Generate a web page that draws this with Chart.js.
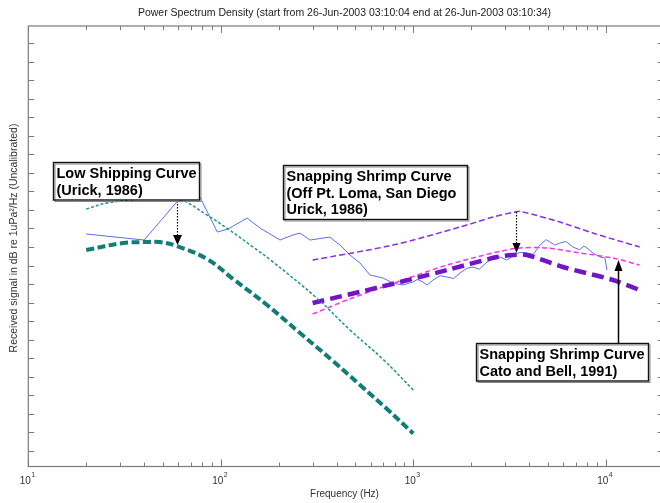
<!DOCTYPE html>
<html><head><meta charset="utf-8">
<script src="https://cdn.jsdelivr.net/npm/chart.js@4.4.1/dist/chart.umd.min.js"></script>
<style>html,body{margin:0;padding:0;background:#fff;overflow:hidden;width:660px;height:503px}canvas{display:block}</style>
</head><body>
<canvas id="c" width="668" height="503" style="width:668px;height:503px"></canvas>
<script>
// ---- texts ----
const titleText = "Power Spectrum Density (start from 26-Jun-2003 03:10:04 end at 26-Jun-2003 03:10:34)";
const xAxisTitle = "Frequency (Hz)";
const yAxisTitle = "Received signal in dB re 1uPa\u00B2/Hz (Uncalibrated)";

// ---- ticks ----
const xMajorTicks = [10, 100, 1000, 10000];
const xMajorExponents = ["1", "2", "3", "4"];
const xMinorTicks = [20,30,40,50,60,70,80,90,200,300,400,500,600,700,800,900,2000,3000,4000,5000,6000,7000,8000,9000];
const yTicks = [30,32,34,36,38,40,42,44,46,48,50,52,54,56,58,60,62,64,66,68,70,72,74];

// ---- measured PSD (blue) ----
const psdFreq = [20,40,59,67,72,77,96,109,137,160,203,237,258,291,369,416,469,529,596,696,784,884,996,1050,1123,1180,1266,1380,1497,1620,1748,1900,2042,2200,2415,2600,2821,3050,3296,3550,3896,4200,4552,4900,5131,5450,5781,6200,6753,7300,7700,7986,8580,9331,9904,10144];
const psdLevel = [53.4,52.75,56.85,57.28,57.82,57.6,53.61,53.94,55.12,54.04,52.75,53.29,53.5,52.75,53.07,52.21,51.13,50.27,48.98,48.65,48.11,47.9,48.22,48.5,48.22,47.9,48.44,48.9,48.76,48.6,49.19,49.7,49.84,49.6,50.38,50.8,50.92,50.6,51.02,51.4,51.35,51.2,52.21,52.8,52.53,52.2,52.43,52.6,52.0,51.7,52.1,51.89,51.35,50.92,50.81,49.51];

// ---- Low shipping curves (Urick 1986) ----
const shipHighFreq = [20,25.6,38,48,61,85,108,147,181,316,469,696,1000];
const shipHighLevel = [56.09,56.74,57.17,57.39,57.17,55.44,54.0,52.0,50.61,46.47,43.05,39.89,36.58];
const shipLowFreq = [20,31,40,48,59,85,116,174,258,383,529,730,1000];
const shipLowLevel = [51.67,52.43,52.53,52.53,52.1,50.7,48.54,45.74,42.72,39.7,37.12,34.53,31.89];

// ---- Snapping shrimp (Urick 1986, Off Pt. Loma) ----
const shrimpUrickFreq = [300,784,1748,2594,3375,3584,5781,8580,15000];
const shrimpUrickLevel = [50.59,52.21,54.15,55.23,55.77,55.85,54.69,53.5,52.0];

// ---- Snapping shrimp (Cato and Bell 1991) ----
const shrimpCatoFreq = [300,671,1497,2720,3296,3896,5995,10900,15000];
const shrimpCatoLevel = [45.96,47.68,49.51,50.92,51.13,51.13,49.84,48.44,47.36];

// ---- Snapping shrimp (magenta) ----
const shrimpMagFreq = [300,452,823,1497,2720,3584,4950,7345,10900,15000];
const shrimpMagLevel = [44.77,46.28,48.22,50.05,51.46,51.89,51.89,51.35,50.81,50.05];

// ---- annotations ----
const noteBoxes = [
  {lines:["Low Shipping Curve","(Urick, 1986)"], x:13.4, y:61.16, w:146},
  {lines:["Snapping Shrimp Curve","(Off Pt. Loma, San Diego","Urick, 1986)"], x:210, y:60.84, w:184},
  {lines:["Snapping Shrimp Curve","Cato and Bell, 1991)"], x:2117, y:41.64, w:172}
];
const noteArrows = [
  {x:59, from:56.95, to:52.21, dotted:true, head:[9,10]},
  {x:3416, from:55.77, to:51.35, dotted:true, head:[8,10]},
  {x:11570, from:41.64, to:50.59, dotted:false, head:[8,11]}
];

const pts = (fx, fy) => fx.map((f, i) => ({x: f, y: fy[i]}));

function ds(label, fx, fy, color, width, dash, tension){
  return {label, data: pts(fx, fy), borderColor: color, backgroundColor: color,
    borderWidth: width, borderDash: dash, pointRadius: 0, tension: tension, fill: false,
    borderCapStyle: 'butt'};
}

const overlay = {
  id: 'overlay',
  afterDatasetsDraw(chart){
    const ctx = chart.ctx, xs = chart.scales.x, ys = chart.scales.y;
    ctx.save();
    noteArrows.forEach(a => {
      const px = Math.round(xs.getPixelForValue(a.x)) + 0.5;
      const y1 = ys.getPixelForValue(a.from), y2 = ys.getPixelForValue(a.to);
      const dir = y2 > y1 ? 1 : -1;
      const hw = a.head[0], hl = a.head[1];
      ctx.strokeStyle = '#000'; ctx.fillStyle = '#000';
      ctx.lineWidth = a.dotted ? 1.2 : 1.5;
      ctx.setLineDash(a.dotted ? [1.5, 1.5] : []);
      ctx.beginPath(); ctx.moveTo(px, y1); ctx.lineTo(px, y2 - dir*hl); ctx.stroke();
      ctx.setLineDash([]);
      ctx.beginPath(); ctx.moveTo(px, y2); ctx.lineTo(px - hw/2, y2 - dir*hl); ctx.lineTo(px + hw/2, y2 - dir*hl); ctx.closePath(); ctx.fill();
    });
    ctx.font = 'bold 14.5px "Liberation Sans", Arial, sans-serif';
    ctx.textBaseline = 'middle'; ctx.textAlign = 'left';
    noteBoxes.forEach(b => {
      const bx = Math.round(xs.getPixelForValue(b.x)) + 0.5;
      const by = Math.round(ys.getPixelForValue(b.y)) + 0.5;
      const lh = 16.5;
      const h = 11 + (b.lines.length - 1)*lh + 10;
      ctx.fillStyle = '#fff';
      ctx.fillRect(bx, by, b.w, h);
      ctx.strokeStyle = '#888'; ctx.lineWidth = 1;
      ctx.strokeRect(bx + 1.5, by + 1.5, b.w, h);
      ctx.strokeStyle = '#111'; ctx.lineWidth = 1.4;
      ctx.strokeRect(bx, by, b.w, h);
      ctx.fillStyle = '#000';
      b.lines.forEach((t, i) => ctx.fillText(t, bx + 3, by + 11.5 + i*lh));
    });
    ctx.restore();
  },
  afterDraw(chart){
    const ctx = chart.ctx, a = chart.chartArea, xs = chart.scales.x, ys = chart.scales.y;
    ctx.save();
    ctx.strokeStyle = '#7a7a7a'; ctx.lineWidth = 1.2;
    const L = (x1,y1,x2,y2) => {ctx.beginPath(); ctx.moveTo(x1,y1); ctx.lineTo(x2,y2); ctx.stroke();};
    ctx.strokeRect(a.left, a.top, a.right - a.left, a.bottom - a.top);
    ctx.lineWidth = 1;
    xMinorTicks.forEach(v => {const p = Math.round(xs.getPixelForValue(v)) + 0.5; L(p, a.bottom, p, a.bottom - 4); L(p, a.top, p, a.top + 4);});
    xMajorTicks.forEach(v => {const p = Math.round(xs.getPixelForValue(v)) + 0.5; L(p, a.bottom, p, a.bottom - 7); L(p, a.top, p, a.top + 7);});
    yTicks.forEach(v => {const p = Math.round(ys.getPixelForValue(v)) + 0.5; L(a.left, p, a.left + 6, p); L(a.right, p, a.right - 6, p);});
    ctx.fillStyle = '#333';
    ctx.textBaseline = 'alphabetic';
    xMajorTicks.forEach((v, i) => {
      const p = xs.getPixelForValue(v);
      ctx.font = '10px "Liberation Sans", Arial, sans-serif';
      ctx.textAlign = 'right'; ctx.fillText('10', p + 2.5, a.bottom + 17);
      ctx.font = '7px "Liberation Sans", Arial, sans-serif';
      ctx.textAlign = 'left'; ctx.fillText(xMajorExponents[i], p + 3, a.bottom + 10);
    });
    ctx.fillStyle = '#222';
    ctx.textAlign = 'center'; ctx.textBaseline = 'middle';
    ctx.font = '10.5px "Liberation Sans", Arial, sans-serif';
    ctx.fillText(titleText, 344.5, 13);
    ctx.font = '10px "Liberation Sans", Arial, sans-serif';
    ctx.fillStyle = '#333';
    ctx.fillText(xAxisTitle, 344.5, 494);
    ctx.save();
    ctx.font = '10.5px "Liberation Sans", Arial, sans-serif';
    ctx.translate(14, 238); ctx.rotate(-Math.PI/2);
    ctx.fillText(yAxisTitle, 0, 0);
    ctx.restore();
    ctx.restore();
  }
};

new Chart(document.getElementById('c'), {
  type: 'line',
  data: {
    datasets: [
      ds('Low shipping (upper)', shipHighFreq, shipHighLevel, '#1f9488', 1.5, [3, 2], 0.4),
      ds('Low shipping (lower)', shipLowFreq, shipLowLevel, '#127d75', 4, [8, 3.5], 0.4),
      ds('Snapping shrimp Urick', shrimpUrickFreq, shrimpUrickLevel, '#8c2ee0', 1.5, [6, 3], 0.3),
      ds('Snapping shrimp Cato & Bell', shrimpCatoFreq, shrimpCatoLevel, '#7214c8', 4.5, [12, 6], 0.3),
      ds('Snapping shrimp', shrimpMagFreq, shrimpMagLevel, '#ff30f4', 1.5, [5, 3], 0.3),
      ds('Measured PSD', psdFreq, psdLevel, '#5b6ef5', 1, [], 0)
    ]
  },
  options: {
    responsive: false, animation: false, devicePixelRatio: 1,
    layout: {padding: {left: 28.3, right: 4.3, top: 26, bottom: 36.5}},
    plugins: {legend: {display: false}, tooltip: {enabled: false}, title: {display: false}},
    scales: {
      x: {type: 'logarithmic', min: 10, max: 20000, display: false},
      y: {type: 'linear', min: 28.33, max: 75.83, display: false}
    }
  },
  plugins: [overlay]
});
</script>
</body></html>
